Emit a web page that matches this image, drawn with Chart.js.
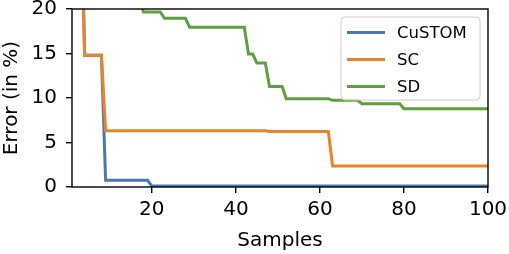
<!DOCTYPE html>
<html>
<head>
<meta charset="utf-8">
<script src="https://cdn.jsdelivr.net/npm/chart.js@4.4.0/dist/chart.umd.min.js"></script>
<style>
  html, body { margin: 0; padding: 0; background: #fff; }
  #chart { display: block; }
</style>
</head>
<body>
<canvas id="chart" width="509" height="254"></canvas>
<script>
// series (x = sample, y = error in %); points above 20 run off the top
const customX = [1, 3, 4, 8, 9, 19, 20, 100];
const customY = [40, 36, 14.8, 14.8, 0.75, 0.75, 0.1, 0.1];
const scX = [1, 3, 4, 8, 9, 47, 48, 62, 63, 100];
const scY = [40, 36, 14.8, 14.8, 6.33, 6.33, 6.25, 6.25, 2.36, 2.36];
const sdX = [1, 17, 18, 22, 23, 28, 29, 42, 43, 44, 45, 47, 48, 51, 52, 62, 63, 69, 70, 79, 80, 100];
const sdY = [40, 21.4, 19.66, 19.66, 18.95, 18.95, 17.94, 17.94, 14.94, 14.94, 13.93, 13.93, 11.3, 11.3, 9.92, 9.92, 9.74, 9.74, 9.36, 9.36, 8.8, 8.8];

const seriesNames = ['CuSTOM', 'SC', 'SD'];
const xTicks = [20, 40, 60, 80, 100];
const yTicks = [0, 5, 10, 15, 20];

const colors = ['#4a78b4', '#ec8329', '#5da13e'];
const FONT = "'DejaVu Sans', sans-serif";

function points(xs, ys) {
    return xs.map((x, i) => ({x: x, y: ys[i]}));
}

// full box around the plot, drawn over the lines like matplotlib spines
const frame = {
    id: 'frame',
    afterDatasetsDraw(chart) {
        const a = chart.chartArea, ctx = chart.ctx;
        ctx.save();
        ctx.strokeStyle = '#000';
        ctx.lineWidth = 1.4;
        ctx.strokeRect(a.left, a.top, a.right - a.left, a.bottom - a.top);
        ctx.restore();
    }
};

// legend box in the upper right corner of the plot
const boxLegend = {
    id: 'boxLegend',
    afterDraw(chart) {
        const a = chart.chartArea, ctx = chart.ctx;
        const w = 139, h = 83;
        const x = a.right - 8 - w, y = a.top + 8;
        ctx.save();
        ctx.beginPath();
        ctx.roundRect(x, y, w, h, 4);
        ctx.fillStyle = 'rgba(255,255,255,0.8)';
        ctx.fill();
        ctx.strokeStyle = '#cccccc';
        ctx.lineWidth = 1;
        ctx.stroke();
        ctx.font = '16.5px ' + FONT;
        ctx.textBaseline = 'middle';
        chart.data.datasets.forEach((ds, i) => {
            const ly = y + 15.5 + i * 27;
            ctx.strokeStyle = ds.borderColor;
            ctx.lineWidth = 3;
            ctx.beginPath();
            ctx.moveTo(x + 6, ly);
            ctx.lineTo(x + 44, ly);
            ctx.stroke();
            ctx.fillStyle = '#000';
            ctx.fillText(ds.label, x + 56, ly + 1);
        });
        ctx.restore();
    }
};

new Chart(document.getElementById('chart'), {
    type: 'line',
    data: {
        datasets: [
            {label: seriesNames[0], data: points(customX, customY)},
            {label: seriesNames[1], data: points(scX, scY)},
            {label: seriesNames[2], data: points(sdX, sdY)}
        ].map((ds, i) => Object.assign(ds, {
            borderColor: colors[i],
            backgroundColor: colors[i],
            borderWidth: 3,
            pointRadius: 0,
            tension: 0,
            clip: 0,
            order: 2 - i   // later series painted on top, as in the original
        }))
    },
    options: {
        responsive: false,
        animation: false,
        events: [],
        layout: { padding: {top: 9, right: 21, left: 0, bottom: 0} },
        plugins: { legend: {display: false}, tooltip: {enabled: false} },
        scales: {
            x: {
                type: 'linear',
                min: 1,
                max: 100,
                afterBuildTicks: s => { s.ticks = xTicks.map(v => ({value: v})); },
                afterFit: s => { s.height = 67; s.paddingLeft = 0; s.paddingRight = 0; },
                ticks: { color: '#000', font: {family: FONT, size: 20}, padding: 4.5, maxRotation: 0, autoSkip: false },
                grid: { drawOnChartArea: false, drawTicks: true, tickLength: 6, color: '#000', lineWidth: 1.4 },
                border: { display: false },
                title: { display: true, text: 'Samples', color: '#000', font: {family: FONT, size: 20}, padding: {top: 0, bottom: 1} }
            },
            y: {
                min: 0,
                max: 20,
                afterBuildTicks: s => { s.ticks = yTicks.map(v => ({value: v})); },
                afterFit: s => { s.width = 72; s.paddingTop = 0; s.paddingBottom = 0; },
                ticks: { color: '#000', font: {family: FONT, size: 20}, padding: 9, autoSkip: false },
                grid: { drawOnChartArea: false, drawTicks: true, tickLength: 6, color: '#000', lineWidth: 1.4 },
                border: { display: false },
                title: { display: true, text: 'Error (in %)', color: '#000', font: {family: FONT, size: 20}, padding: {top: 0, bottom: 0} }
            }
        }
    },
    plugins: [frame, boxLegend]
});
</script>
</body>
</html>
